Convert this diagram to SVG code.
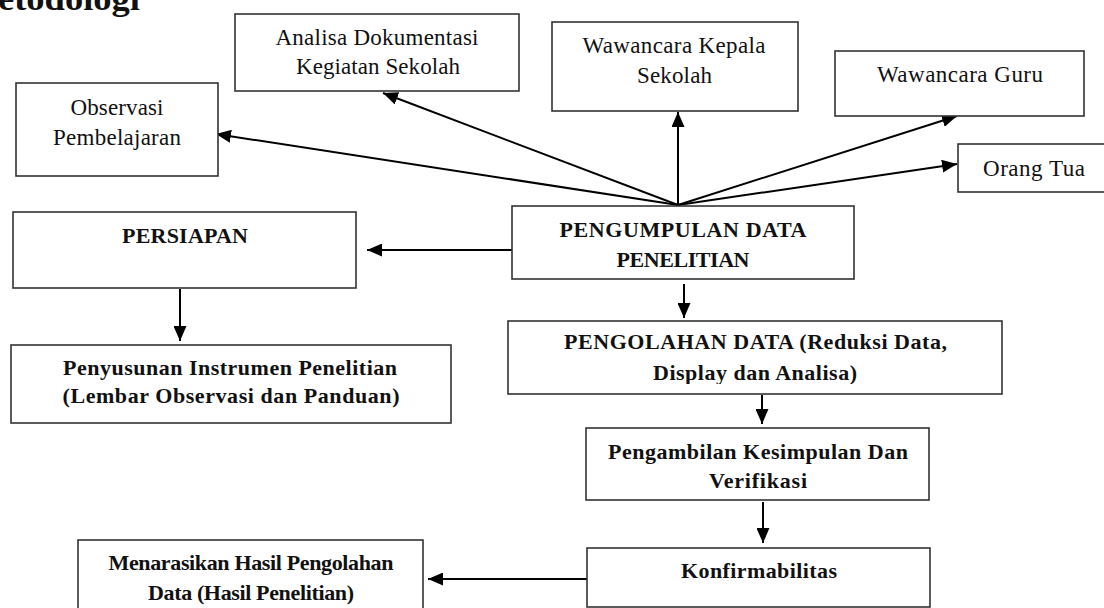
<svg xmlns="http://www.w3.org/2000/svg" width="1104" height="608" viewBox="0 0 1104 608">
<style>
.box{fill:#fff;stroke:#333;stroke-width:1.6}
.t{font-family:"Liberation Serif","Times New Roman",serif;font-size:23px;fill:#111;text-anchor:middle}
.b{font-weight:bold;font-size:22px}
.c{stroke:#000;stroke-width:2;fill:none;marker-end:url(#ah)}
</style>
<defs>
<marker id="ah" markerUnits="userSpaceOnUse" markerWidth="15" markerHeight="13" refX="15" refY="6.5" orient="auto">
<path d="M0,0 L15,6.5 L0,13 z" fill="#000"/>
</marker>
<clipPath id="clipOlah"><rect x="508" y="321" width="494" height="63"/></clipPath>
</defs>
<rect width="1104" height="608" fill="#fff"/>
<text x="-2" y="10" font-family="Liberation Serif,serif" font-weight="bold" font-size="34" fill="#111" textLength="142" lengthAdjust="spacingAndGlyphs">etodologi</text>

<g id="connectors">
<line class="c" x1="678" y1="205" x2="216" y2="134"/>
<line class="c" x1="678" y1="205" x2="383" y2="93"/>
<line class="c" x1="678" y1="205" x2="678" y2="112"/>
<line class="c" x1="678" y1="205" x2="957" y2="116"/>
<line class="c" x1="678" y1="205" x2="957" y2="164"/>
<line class="c" x1="512" y1="250" x2="367" y2="250"/>
<line class="c" x1="180" y1="289" x2="180" y2="341"/>
<line class="c" x1="684" y1="284" x2="684" y2="318"/>
<line class="c" x1="762" y1="395" x2="762" y2="424"/>
<line class="c" x1="763" y1="502" x2="763" y2="543"/>
<line class="c" x1="587" y1="579" x2="428" y2="579"/>
</g>

<g id="observasi">
<rect class="box" x="16" y="83" width="202" height="93"/>
<text class="t" x="117" y="115" textLength="93">Observasi</text>
<text class="t" x="117" y="145" textLength="128">Pembelajaran</text>
</g>
<g id="analisa">
<rect class="box" x="235" y="14" width="284" height="77"/>
<text class="t" x="377" y="45" textLength="203">Analisa Dokumentasi</text>
<text class="t" x="378" y="74" textLength="164">Kegiatan Sekolah</text>
</g>
<g id="kepala">
<rect class="box" x="552" y="22" width="246" height="89"/>
<text class="t" x="674" y="53" textLength="183">Wawancara Kepala</text>
<text class="t" x="674.5" y="83" textLength="75">Sekolah</text>
</g>
<g id="guru">
<rect class="box" x="835" y="51" width="249" height="65"/>
<text class="t" x="960" y="82" textLength="166">Wawancara Guru</text>
</g>
<g id="orangtua">
<rect class="box" x="958" y="144" width="152" height="48"/>
<text class="t" x="1034" y="176" textLength="102">Orang Tua</text>
</g>
<g id="pengumpulan">
<rect class="box" x="512" y="206" width="342" height="73"/>
<text class="t b" x="683" y="237" textLength="247">PENGUMPULAN DATA</text>
<text class="t b" x="683" y="267" textLength="133">PENELITIAN</text>
</g>
<g id="persiapan">
<rect class="box" x="13" y="212" width="343" height="76"/>
<text class="t b" x="185" y="243" textLength="126">PERSIAPAN</text>
</g>
<g id="penyusunan">
<rect class="box" x="11" y="345" width="440" height="78"/>
<text class="t b" x="230" y="375" textLength="334">Penyusunan Instrumen Penelitian</text>
<text class="t b" x="231" y="403" textLength="337">(Lembar Observasi dan Panduan)</text>
</g>
<g id="pengolahan">
<rect class="box" x="508" y="321" width="494" height="73"/>
<g clip-path="url(#clipOlah)">
<text class="t b" x="755.5" y="349" textLength="383">PENGOLAHAN DATA (Reduksi Data,</text>
<text class="t b" x="755" y="380" textLength="204">Display dan Analisa)</text>
</g>
</g>
<g id="pengambilan">
<rect class="box" x="586" y="428" width="343" height="72"/>
<text class="t b" x="758" y="459" textLength="300">Pengambilan Kesimpulan Dan</text>
<text class="t b" x="758" y="488" textLength="98">Verifikasi</text>
</g>
<g id="konfirmabilitas">
<rect class="box" x="587" y="548" width="343" height="59"/>
<text class="t b" x="759" y="578" textLength="156">Konfirmabilitas</text>
</g>
<g id="menarasikan">
<rect class="box" x="78" y="540" width="345" height="75"/>
<text class="t b" x="251" y="570" textLength="285">Menarasikan Hasil Pengolahan</text>
<text class="t b" x="251" y="600" textLength="206">Data (Hasil Penelitian)</text>
</g>
</svg>
